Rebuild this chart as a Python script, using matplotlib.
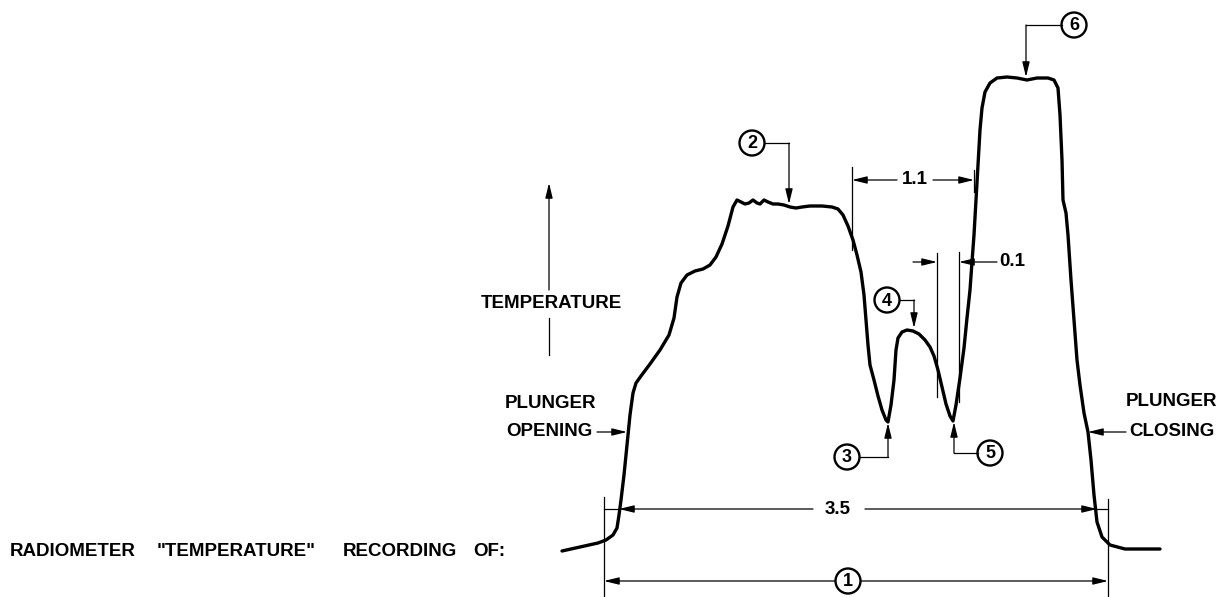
import matplotlib.pyplot as plt
from matplotlib.patches import Circle

# radiometer trace (drawing units, y grows downward)
trace_t = [562, 580, 598, 606, 613, 617, 619, 621, 624, 627, 630, 633, 636, 641,
           650, 660, 669, 674, 677, 681, 687, 695, 703, 710, 716, 722, 728, 733,
           737, 741, 745, 749, 753, 757, 760, 764, 768, 773, 778, 784, 790, 796,
           802, 810, 822, 832, 838, 843, 848, 853, 857, 861, 864, 866, 868, 870,
           874, 878, 882, 886, 888, 891, 894, 896, 898, 902, 907, 913, 919, 925,
           930, 934, 938, 942, 946, 950, 953, 956, 960, 964, 967, 970, 972, 974,
           976, 978, 980, 982, 985, 990, 997, 1007, 1017, 1027, 1037, 1048, 1054,
           1058, 1060, 1062, 1063, 1066, 1068, 1071, 1074, 1077, 1080, 1084, 1088,
           1091, 1094, 1097, 1102, 1110, 1125, 1160]
trace_temp = [551, 547, 543, 540, 535, 528, 515, 500, 475, 445, 415, 393, 383, 376,
              364, 350, 335, 318, 297, 283, 275, 271, 269, 265, 257, 244, 226, 207,
              200, 202, 204, 203, 200, 203, 204, 200, 202, 204, 204, 205, 207, 208,
              207, 206, 206, 207, 209, 215, 226, 240, 255, 272, 295, 320, 345, 365,
              380, 396, 410, 420, 422, 405, 380, 350, 338, 332, 330, 331, 334, 340,
              347, 356, 370, 387, 404, 416, 421, 405, 378, 348, 318, 290, 262, 235,
              200, 165, 130, 108, 92, 83, 78, 77, 78, 80, 78, 78, 80,
              88, 115, 160, 200, 213, 235, 280, 320, 360, 385, 413, 432,
              460, 495, 522, 537, 545, 549, 549]

dim_labels = ["3.5", "1.1", "0.1"]
point_labels = ["1", "2", "3", "4", "5", "6"]
caption_words = ["RADIOMETER", '"TEMPERATURE"', "RECORDING", "OF:"]
caption_x = [10, 157, 343, 473]

plt.rcParams['font.family'] = ['Liberation Sans', 'DejaVu Sans']
plt.rcParams['font.weight'] = 'bold'

FS = 13.5
THIN = 0.9


def arrow(ax, tip, tail):
    ax.annotate("", xy=tip, xytext=tail,
                arrowprops=dict(arrowstyle="-|>,head_length=0.9,head_width=0.22",
                                color="black", lw=THIN, shrinkA=0, shrinkB=0))


def line(ax, xs, ys):
    ax.plot(xs, ys, color="black", lw=THIN)


def numbered(ax, x, y, label):
    ax.add_patch(Circle((x, y), 12.5, fill=False, lw=1.7, color="black"))
    ax.text(x, y + 1, label, ha="center", va="center", fontsize=13)


def leader(ax, cx, cy, corner_x, tip_y, label):
    numbered(ax, cx, cy, label)
    side = 12.5 if corner_x > cx else -12.5
    line(ax, [cx + side, corner_x], [cy, cy])
    arrow(ax, (corner_x, tip_y), (corner_x, cy))


fig = plt.figure(figsize=(12.28, 5.97), dpi=100)
ax = fig.add_axes([0, 0, 1, 1])
ax.set_xlim(0, 1228)
ax.set_ylim(597, 0)
ax.axis("off")

ax.plot(trace_t, trace_temp, color="black", lw=2.4,
        solid_joinstyle="round", solid_capstyle="round")

# caption
for word, x in zip(caption_words, caption_x):
    ax.text(x, 552, word, ha="left", va="center", fontsize=FS)

# temperature axis arrow
ax.text(551, 303, "TEMPERATURE", ha="center", va="center", fontsize=FS)
line(ax, [549, 549], [355, 318])
arrow(ax, (549, 183), (549, 290))

# plunger notes
ax.text(505, 403, "PLUNGER", ha="left", va="center", fontsize=FS)
ax.text(506, 432, "OPENING", ha="left", va="center", fontsize=FS)
arrow(ax, (627, 432), (597, 432))
ax.text(1217, 402, "PLUNGER", ha="right", va="center", fontsize=FS)
ax.text(1215, 432, "CLOSING", ha="right", va="center", fontsize=FS)
arrow(ax, (1088, 432), (1126, 432))

# extension lines for 3.5 and (1)
line(ax, [604, 604], [497, 597])
line(ax, [1108, 1108], [499, 597])

# 3.5 dimension
ax.text(838, 509, dim_labels[0], ha="center", va="center", fontsize=FS)
line(ax, [604, 619], [509, 509])
arrow(ax, (619, 509), (813, 509))
line(ax, [1097, 1108], [509, 509])
arrow(ax, (1097, 509), (865, 509))

# (1) dimension
numbered(ax, 848, 581, point_labels[0])
arrow(ax, (604, 581), (835, 581))
arrow(ax, (1108, 581), (861, 581))

# 1.1 dimension
line(ax, [852, 852], [167, 250])
line(ax, [974, 974], [170, 192])
ax.text(915, 180, dim_labels[1], ha="center", va="center", fontsize=FS)
arrow(ax, (852, 180), (897, 180))
arrow(ax, (974, 180), (933, 180))

# 0.1 dimension
line(ax, [937, 937], [253, 397])
line(ax, [959, 959], [252, 402])
arrow(ax, (937, 262), (913, 262))
arrow(ax, (959, 262), (997, 262))
ax.text(999, 262, dim_labels[2], ha="left", va="center", fontsize=FS)

# numbered points on the trace
leader(ax, 752, 143, 789, 204, point_labels[1])
leader(ax, 847, 457, 888, 423, point_labels[2])
leader(ax, 887, 300, 914, 328, point_labels[3])
leader(ax, 990, 453, 954, 422, point_labels[4])
leader(ax, 1074, 25, 1026, 77, point_labels[5])

fig.savefig("out.png", dpi=100, facecolor="white")
